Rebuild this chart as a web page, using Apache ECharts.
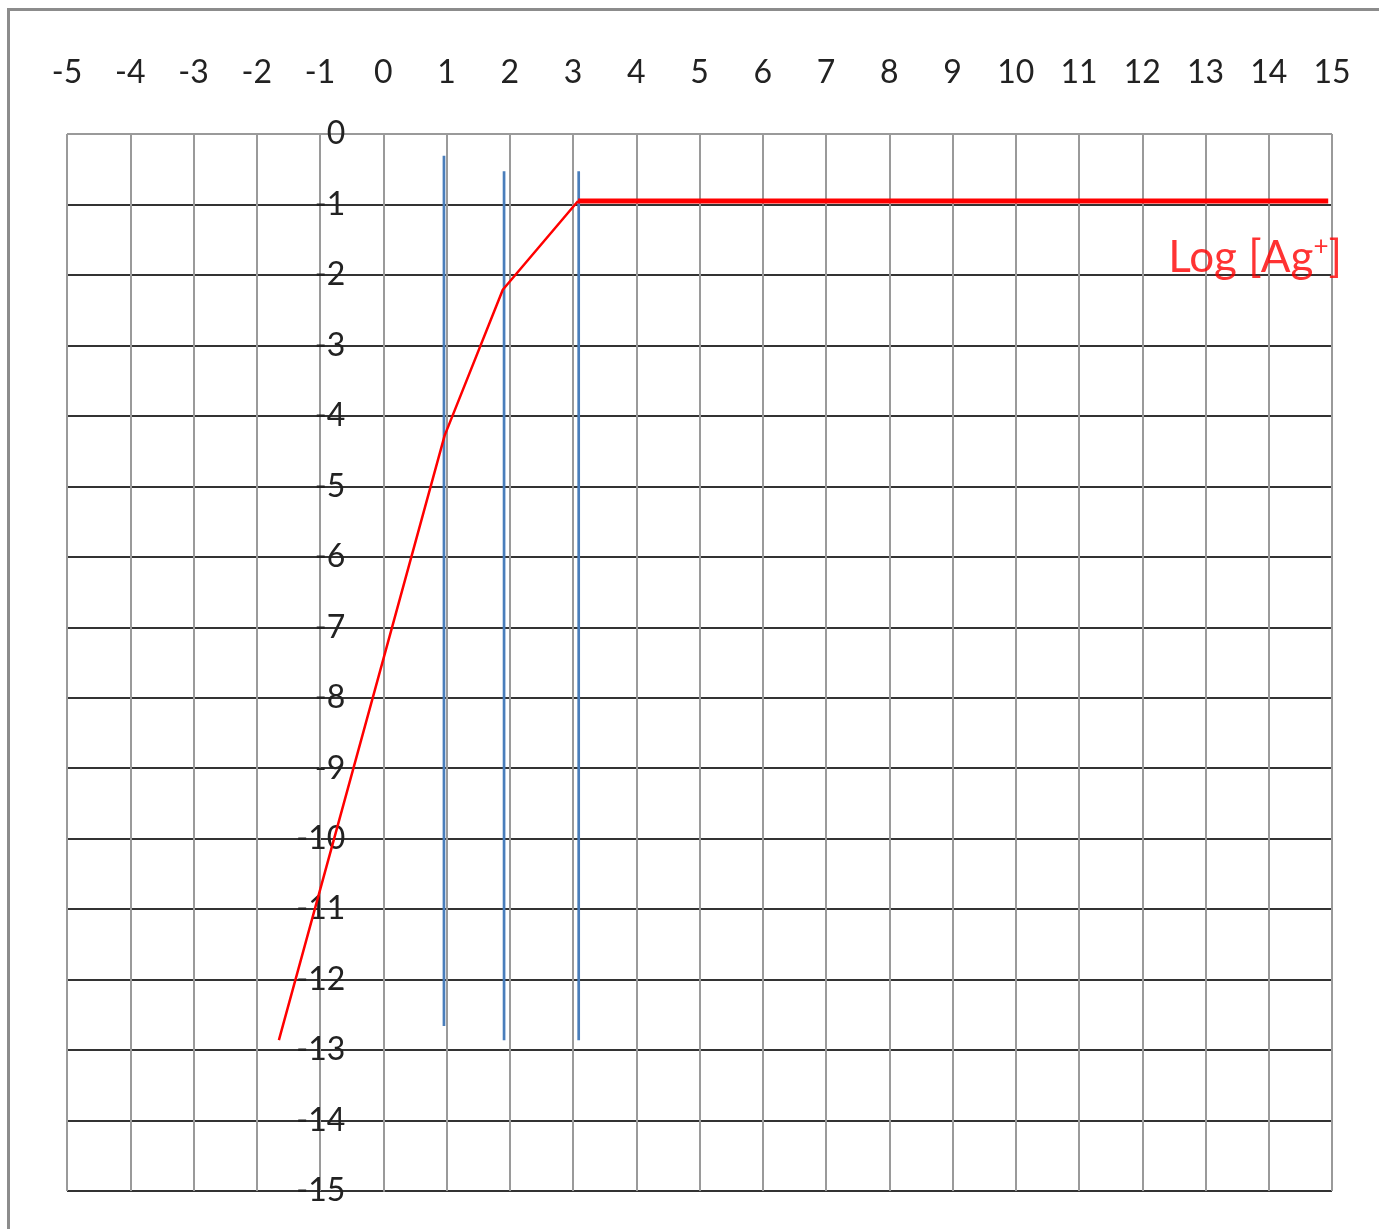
<!DOCTYPE html>
<html>
<head>
<meta charset="utf-8">
<script src="https://cdn.jsdelivr.net/npm/echarts@6/dist/echarts.min.js"></script>
<style>
html,body{margin:0;padding:0;background:#fff;}
#chart{width:1379px;height:1229px;}
</style>
</head>
<body>
<div id="chart"></div>
<script>
// Axis ranges
const xRange = [-5, 15];
const yRange = [-15, 0];

// Red curve (log [Ag+]) – sloped part
const redX = [-1.65, 0.97, 1.89, 3.08];
const redY = [-12.86, -4.28, -2.21, -0.95];
// Red plateau
const plateauX = [3.08, 14.94];
const plateauY = [-0.95, -0.95];

// Blue vertical markers
const blueX = [0.96, 1.91, 3.09];
const blueTop = [-0.31, -0.53, -0.53];
const blueBottom = [-12.66, -12.86, -12.86];

// Curve label
const labelText = 'Log [Ag';
const labelSup = '+';
const labelPos = [12.41, -1.75];

const zip = (a, b) => a.map((v, i) => [v, b[i]]);

const ySplitColors = [];
for (let v = yRange[0]; v <= yRange[1]; v++) {
  ySplitColors.push(v === yRange[1] ? '#9a9a9a' : '#333333');
}

const gridLeft = 67, gridRight = 47, W = 1379;
// y axis sits on x = 0
const yAxisOffset = -((0 - xRange[0]) / (xRange[1] - xRange[0])) * (W - gridLeft - gridRight);

const blueSeries = blueX.map((x, i) => ({
  type: 'line',
  data: [[x, blueTop[i]], [x, blueBottom[i]]],
  showSymbol: false,
  symbol: 'none',
  lineStyle: { color: '#4a7ebb', width: 2.7 },
  z: 3,
  silent: true
}));

const chart = echarts.init(document.getElementById('chart'));
chart.setOption({
  animation: false,
  backgroundColor: '#fff',
  graphic: [{
    type: 'rect',
    shape: { x: 8.5, y: 9.5, width: 1400, height: 1260 },
    style: { fill: 'none', stroke: '#8c8c8c', lineWidth: 3 },
    z: 100,
    silent: true
  }],
  grid: { left: gridLeft, right: gridRight, top: 134, bottom: 38, containLabel: false, outerBoundsMode: 'none' },
  xAxis: {
    type: 'value',
    min: xRange[0], max: xRange[1], interval: 1,
    position: 'top',
    axisLine: { show: false, onZero: false },
    axisTick: { show: false },
    axisLabel: { fontFamily: 'Lato', fontSize: 32, color: '#222', margin: 45 },
    splitLine: { show: true, lineStyle: { color: '#9a9a9a', width: 2 } }
  },
  yAxis: {
    type: 'value',
    min: yRange[0], max: yRange[1], interval: 1,
    position: 'left',
    offset: yAxisOffset,
    axisLine: { show: true, onZero: false, lineStyle: { color: '#9a9a9a', width: 2 } },
    axisTick: { show: false },
    axisLabel: { fontFamily: 'Lato', fontSize: 32, color: '#222', margin: 38 },
    splitLine: { show: true, lineStyle: { color: ySplitColors, width: 2 } }
  },
  series: [
    ...blueSeries,
    {
      type: 'line',
      data: zip(redX, redY),
      showSymbol: false,
      symbol: 'none',
      lineStyle: { color: '#ff0000', width: 2.5 },
      z: 4
    },
    {
      type: 'line',
      data: zip(plateauX, plateauY),
      showSymbol: false,
      symbol: 'none',
      lineStyle: { color: '#ff0000', width: 5 },
      z: 4
    },
    {
      type: 'scatter',
      data: [labelPos],
      symbolSize: 0.01,
      itemStyle: { color: 'rgba(0,0,0,0)' },
      z: 5,
      label: {
        show: true,
        position: 'right',
        distance: 0,
        formatter: '{a|' + labelText + '}{s|' + labelSup + '}{a|]}',
        rich: {
          a: { fontFamily: 'Lato', fontSize: 44, color: '#ff0000', lineHeight: 50 },
          s: { fontFamily: 'Lato', fontSize: 26, color: '#ff0000', padding: [0, 0, 22, 0] }
        }
      }
    }
  ]
});
</script>
</body>
</html>
